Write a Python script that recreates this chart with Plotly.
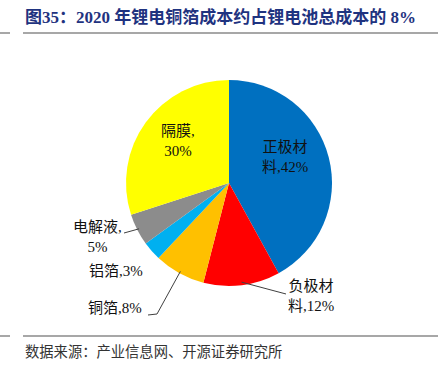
import math
import plotly.graph_objects as go

# ---- data ----
categories = ["正极材料", "负极材料", "铜箔", "铝箔", "电解液", "隔膜"]
shares = [42, 12, 8, 3, 5, 30]
colors = ["#0070C0", "#FF0000", "#FFC000", "#00B0F0", "#8C8C8C", "#FFFF00"]
title_text = "图35：2020 年锂电铜箔成本约占锂电池总成本的 8%"
source_text = "数据来源：产业信息网、开源证券研究所"

W, H = 438, 370
# pie placement (pixels)
CX, CY, R = 229, 183, 103

def px(x):
    return x / W

def py(y):
    return 1 - y / H

fig = go.Figure(go.Pie(
    labels=categories,
    values=shares,
    marker=dict(colors=colors, line=dict(width=0)),
    sort=False,
    direction="clockwise",
    rotation=0,
    textinfo="none",
    hoverinfo="label+percent",
    domain=dict(x=[px(CX - R), px(CX + R)], y=[py(CY + R), py(CY - R)]),
    showlegend=False,
))

# mid angles from data
total = sum(shares)
mids = []
acc = 0
for v in shares:
    mids.append((acc + v / 2) / total * 2 * math.pi)
    acc += v

def edge(i, f=1.0):
    a = mids[i]
    return CX + f * R * math.sin(a), CY - f * R * math.cos(a)

FONT = "Liberation Serif, Noto Sans CJK SC, serif"
lab_font = dict(family=FONT, size=15, color="#111111")

def label(text, x, y, align="center", xanchor="center"):
    fig.add_annotation(text=text, x=px(x), y=py(y), xref="paper", yref="paper",
                       showarrow=False, font=lab_font, align=align,
                       xanchor=xanchor, yanchor="middle")

label("正极材<br>料,42%", 285, 157)
label("隔膜,<br>30%", 178, 141)
label("负极材<br>料,12%", 311, 296)
label("电解液,<br>5%", 97, 237)
label("铝箔,3%", 116, 271)
label("铜箔,8%", 115, 308)

line_style = dict(color="#404040", width=1)

def seg(pts):
    path = "M " + " L ".join(f"{px(x):.5f},{py(y):.5f}" for x, y in pts)
    fig.add_shape(type="path", path=path, xref="paper", yref="paper", line=line_style)

# leader lines
ex, ey = edge(1, 0.97)
seg([(ex, ey), (286, 294)])
ex, ey = edge(2, 0.98)
seg([(ex, ey), (157, 314), (148, 315)])
ex, ey = edge(4, 0.98)
seg([(ex, ey), (124, 233)])

# title
fig.add_annotation(text="<b>" + title_text + "</b>", x=px(23), y=py(17), xref="paper", yref="paper",
                   showarrow=False, xanchor="left", yanchor="middle",
                   font=dict(family=FONT, size=17, color="#1F3380"))
# source
fig.add_annotation(text=source_text, x=px(23), y=py(352), xref="paper", yref="paper",
                   showarrow=False, xanchor="left", yanchor="middle",
                   font=dict(family=FONT, size=14.3, color="#333333"))

# separator lines
for y in (33, 336):
    fig.add_shape(type="line", x0=px(23), x1=1, y0=py(y), y1=py(y), xref="paper", yref="paper",
                  line=dict(color="#8a8a8a", width=1.5))
    fig.add_shape(type="line", x0=0, x1=px(10), y0=py(y), y1=py(y), xref="paper", yref="paper",
                  line=dict(color="#8a8a8a", width=1.5))

fig.update_layout(width=W, height=H, margin=dict(l=0, r=0, t=0, b=0),
                  paper_bgcolor="white", plot_bgcolor="white")
fig.write_html("out.html", config={"displayModeBar": False},
               post_script="document.body.style.margin='0';document.body.style.overflow='hidden';")
